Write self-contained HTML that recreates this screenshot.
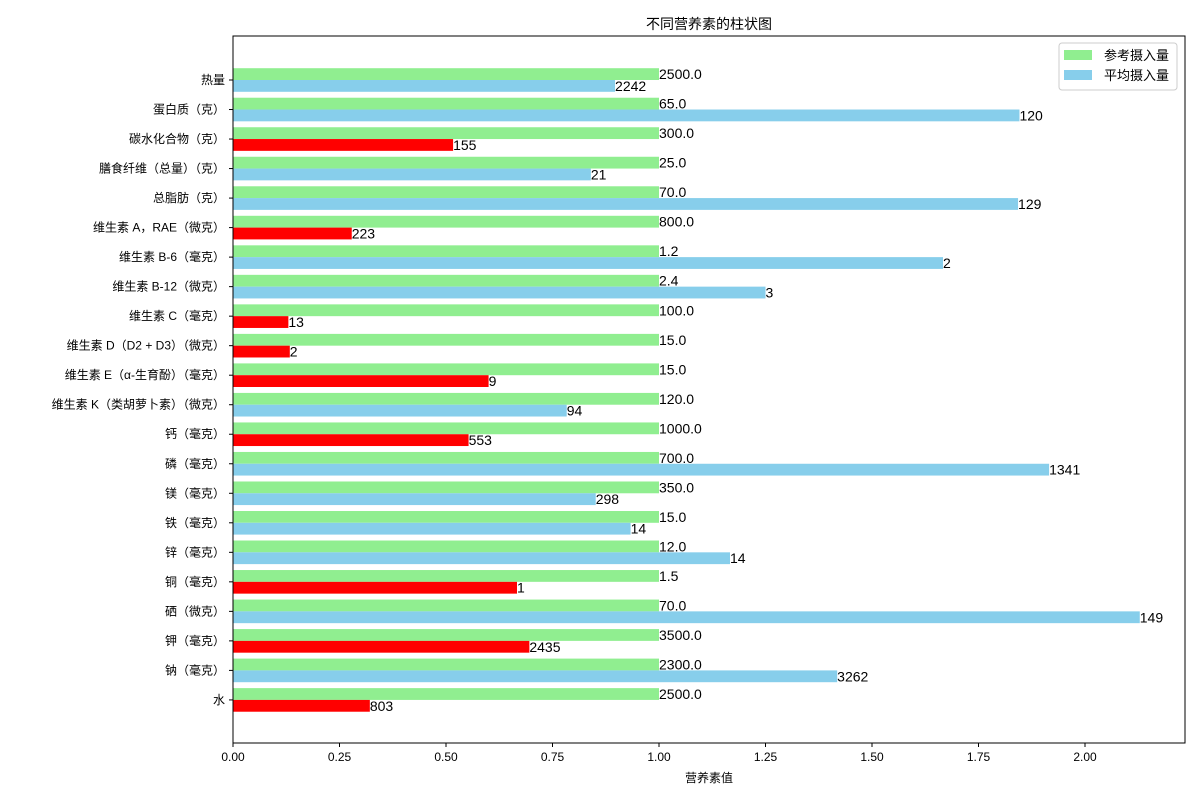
<!DOCTYPE html>
<html><head><meta charset="utf-8"><style>
body{margin:0;background:#fff;}
svg text{font-family:"Liberation Sans","WenQuanYi Zen Hei","Noto Sans CJK SC",sans-serif;}
</style></head><body>
<svg id="chart" width="1200" height="800" xmlns="http://www.w3.org/2000/svg"></svg>
<script>
const categories=["热量","蛋白质（克）","碳水化合物（克）","膳食纤维（总量）（克）","总脂肪（克）","维生素 A，RAE（微克）","维生素 B-6（毫克）","维生素 B-12（微克）","维生素 C（毫克）","维生素 D（D2 + D3）（微克）","维生素 E（α-生育酚）（毫克）","维生素 K（类胡萝卜素）（微克）","钙（毫克）","磷（毫克）","镁（毫克）","铁（毫克）","锌（毫克）","铜（毫克）","硒（微克）","钾（毫克）","钠（毫克）","水"];
const refValues=[2500,65,300,25,70,800,1.2,2.4,100,15,15,120,1000,700,350,15,12,1.5,70,3500,2300,2500];
const avgValues=[2242,120,155,21,129,223,2,3,13,2,9,94,553,1341,298,14,14,1,149,2435,3262,803];
const xTicks=[0,0.25,0.5,0.75,1.0,1.25,1.5,1.75,2.0];
const L=233,R=1185,T=36,B=743;
const xs=v=>L+v*426;
const rowY=i=>80+i*29.52;
const bh=11.8;
const svg=document.getElementById('chart');
const NS="http://www.w3.org/2000/svg";
function mk(tag,attrs,txt){const e=document.createElementNS(NS,tag);for(const k in attrs)e.setAttribute(k,attrs[k]);if(txt!==undefined)e.textContent=txt;svg.appendChild(e);return e;}
let t=mk('text',{x:709,y:29,'font-size':14,'text-anchor':'middle'},'不同营养素的柱状图');


categories.forEach((c,i)=>{
  const y=rowY(i);
  const ratio=avgValues[i]/refValues[i];
  let g=mk('rect',{x:L,y:y-bh,width:xs(1)-L,height:bh,fill:'#90ee90'});
  
  
  let b=mk('rect',{x:L,y:y,width:xs(ratio)-L,height:bh,fill:ratio<0.75?'#ff0000':'#87ceeb'});
  
  
  let l1=mk('text',{x:xs(1),y:y-bh/2+5,'font-size':14},refValues[i].toFixed(1));
  
  
  let l2=mk('text',{x:xs(ratio),y:y+bh/2+5,'font-size':14},String(Math.round(avgValues[i])));
  
  
  mk('line',{x1:L-4,x2:L,y1:y,y2:y,stroke:'#000'});
  let yl=mk('text',{x:L-8,y:y+4,'font-size':12,'text-anchor':'end'},c);
  
  
});
xTicks.forEach(v=>{
  mk('line',{x1:xs(v),x2:xs(v),y1:B,y2:B+4,stroke:'#000'});
  let tl=mk('text',{x:xs(v),y:B+18,'font-size':12,'text-anchor':'middle'},v.toFixed(2));
  
  
});
let fr=mk('rect',{x:L,y:T,width:R-L,height:B-T,fill:'none',stroke:'#000','stroke-width':1});


let xt=mk('text',{x:709,y:782,'font-size':12,'text-anchor':'middle'},'营养素值');


let lg=mk('rect',{x:1059,y:43,width:118,height:47,fill:'#fff',stroke:'#ccc',rx:3});


mk('rect',{x:1064,y:50,width:28,height:10,fill:'#90ee90'});
let le1=mk('text',{x:1104,y:60,'font-size':13},'参考摄入量');


mk('rect',{x:1064,y:70,width:28,height:10,fill:'#87ceeb'});
let le2=mk('text',{x:1104,y:80,'font-size':13},'平均摄入量');


</script>
</body></html>
